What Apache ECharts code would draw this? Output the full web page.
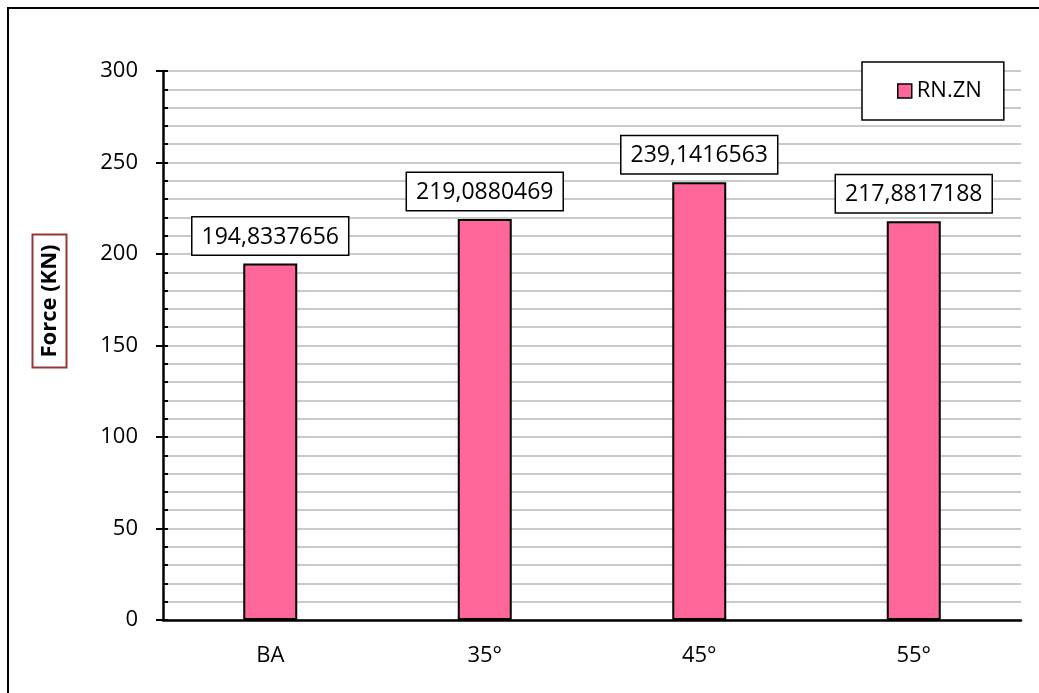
<!DOCTYPE html>
<html>
<head>
<meta charset="utf-8">
<script src="https://cdn.jsdelivr.net/npm/echarts@6/dist/echarts.min.js"></script>
<style>html,body{margin:0;padding:0;background:#fff}#c{width:1039px;height:693px}</style>
</head>
<body>
<div id="c"></div>
<script>
const categories = ['BA', '35°', '45°', '55°'];
const seriesName = 'RN.ZN';
const values = [194.8337656, 219.0880469, 239.1416563, 217.8817188];
const yTicks = [0, 50, 100, 150, 200, 250, 300];

const chart = echarts.init(document.getElementById('c'));
const font = '"Open Sans", sans-serif';
chart.setOption({
  animation: false,
  backgroundColor: '#fff',
  grid: { left: 163, right: 18, top: 71, bottom: 73 },
  graphic: [
    { type: 'rect', shape: { x: 8, y: 8, width: 1040, height: 700 }, style: { fill: 'none', stroke: '#000', lineWidth: 2 }, z: 100 },
    { type: 'text', x: 49.5, y: 301, rotation: Math.PI / 2, z: 100,
      style: { text: 'Force (KN)', font: 'bold 22px ' + font, fill: '#000', align: 'center', verticalAlign: 'middle',
        backgroundColor: '#fff', borderColor: '#953735', borderWidth: 2, padding: [6, 9, 4, 9] } }
  ],
  legend: {
    left: 862, top: 62, orient: 'horizontal',
    data: [seriesName],
    backgroundColor: '#fff', borderColor: '#000', borderWidth: 1.5,
    padding: [18, 22, 18, 35],
    itemWidth: 14, itemHeight: 14, icon: 'rect',
    itemStyle: { color: '#FF6699', borderColor: '#000', borderWidth: 1.5 },
    textStyle: { fontFamily: font, fontSize: 22, color: '#000' }
  },
  xAxis: {
    type: 'category', data: categories,
    axisLine: { lineStyle: { color: '#000', width: 2.5 } },
    axisTick: { show: true, inside: true, alignWithLabel: true, length: 5, lineStyle: { color: '#000', width: 2 } },
    axisLabel: { fontFamily: font, fontSize: 22, color: '#000', margin: 25 },
    splitLine: { show: false }
  },
  yAxis: [
    {
      type: 'value', min: 0, max: 300, interval: 50, position: 'left',
      axisLine: { show: true, lineStyle: { color: '#000', width: 2.5 } },
      axisTick: { show: true, length: 7, lineStyle: { color: '#000', width: 2 } },
      axisLabel: { fontFamily: font, fontSize: 22, color: '#000', margin: 25,
        formatter: v => yTicks.includes(v) ? String(v) : '' },
      splitLine: { show: false }
    },
    {
      type: 'value', min: 0, max: 300, interval: 10, position: 'left',
      axisLine: { show: false },
      axisTick: { show: true, inside: true, length: 5, lineStyle: { color: '#000', width: 2 } },
      axisLabel: { show: false },
      splitLine: { show: true, lineStyle: { color: '#b8b8b8', width: 1.5 } }
    }
  ],
  series: [{
    name: seriesName, type: 'bar', yAxisIndex: 0, data: values, barWidth: 54,
    itemStyle: { color: '#FF6699', borderColor: '#000', borderWidth: 2 },
    label: {
      show: true, position: 'top', distance: 9,
      formatter: p => String(values[p.dataIndex]).replace('.', ','),
      fontFamily: font, fontSize: 23, color: '#000',
      backgroundColor: '#fff', borderColor: '#000', borderWidth: 1.5,
      padding: [8, 9, 6, 9]
    }
  }]
});
</script>
</body>
</html>
